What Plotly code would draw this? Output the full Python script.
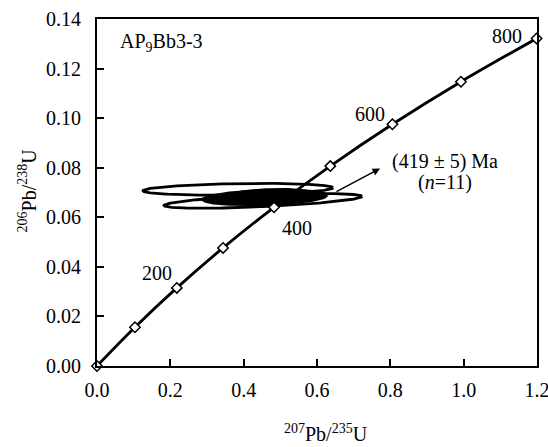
import numpy as np
import plotly.graph_objects as go

# Concordia points (age in Ma, 207Pb/235U, 206Pb/238U)
ages = [0, 100, 200, 300, 400, 500, 600, 700, 800]
conc_x = [0.0, 0.1035, 0.2177, 0.3437, 0.4828, 0.6362, 0.8057, 0.9926, 1.1989]
conc_y = [0.0, 0.01563, 0.03151, 0.04764, 0.06402, 0.08065, 0.09754, 0.11470, 0.13213]

# Age labels
lab_text = ["200", "400", "600", "800"]
lab_x = [0.164, 0.545, 0.745, 1.118]
lab_y = [0.0376, 0.0558, 0.1016, 0.1331]

# Error ellipses: center x, center y, semi-axis x, semi-axis y, tilt (dy/dx), filled
ell_cx = [0.3845, 0.4527, 0.458, 0.470]
ell_cy = [0.0713, 0.0666, 0.0680, 0.0682]
ell_ax = [0.259, 0.270, 0.169, 0.130]
ell_ay = [0.0023, 0.0023, 0.0028, 0.0030]
ell_tilt = [0.0023, 0.0068, 0.005, 0.005]
ell_fill = [False, False, True, True]

fig = go.Figure()

for cx, cy, ax, ay, tl, fl in zip(ell_cx, ell_cy, ell_ax, ell_ay, ell_tilt, ell_fill):
    t = np.linspace(0, 2 * np.pi, 200)
    ex = cx + ax * np.cos(t)
    ey = cy + ay * np.sin(t) + tl * (ex - cx)
    fig.add_trace(go.Scatter(
        x=ex, y=ey, mode="lines", fill="toself",
        fillcolor="black" if fl else "rgba(255,255,255,0)",
        line=dict(color="black", width=2.8),
        hoverinfo="skip", showlegend=False))

fig.add_trace(go.Scatter(
    x=conc_x, y=conc_y, mode="lines+markers",
    line=dict(color="black", width=2.8, shape="spline"),
    marker=dict(symbol="diamond", size=8, color="white",
                line=dict(color="black", width=1.5)),
    cliponaxis=False, showlegend=False, text=ages))

font_serif = "Liberation Serif, Times New Roman, serif"
FS = 20
fnt = dict(family=font_serif, size=FS, color="black")

for tx, x, y in zip(lab_text, lab_x, lab_y):
    fig.add_annotation(x=x, y=y, text=tx, showarrow=False, font=fnt)

fig.add_annotation(x=0.057, y=0.1307, xanchor="left", text="AP<sub>9</sub>Bb3-3",
                   showarrow=False, font=fnt)

# arrow
fig.add_annotation(x=0.772, y=0.0797, ax=0.649, ay=0.0700,
                   xref="x", yref="y", axref="x", ayref="y",
                   text="", showarrow=True, arrowhead=2, arrowsize=1,
                   arrowwidth=1.5, arrowcolor="black")
fig.add_annotation(x=0.948, y=0.0825, text="(419 ± 5) Ma", showarrow=False, font=fnt)
fig.add_annotation(x=0.948, y=0.0739, text="(<i>n</i>=11)", showarrow=False, font=fnt)

# axis titles
fig.add_annotation(x=0.520, y=-0.2334, xref="paper", yref="paper", yanchor="bottom",
                   text="<sup>207</sup>Pb/<sup>235</sup>U", showarrow=False, font=fnt)
fig.add_annotation(x=-0.19, y=0.507, xref="paper", yref="paper", textangle=-90,
                   text="<sup>206</sup>Pb/<sup>238</sup>U", showarrow=False, font=fnt)

axis_common = dict(showline=True, linecolor="black", linewidth=2, mirror=True,
                   ticks="inside", ticklen=7, tickwidth=1.5, tickcolor="black",
                   showgrid=False, zeroline=False, automargin=False,
                   ticklabeloverflow="allow", tickfont=fnt)

fig.update_xaxes(range=[0, 1.2], dtick=0.2, tick0=0, tickformat=".1f",
                 ticklabelstandoff=5, **axis_common)
fig.update_yaxes(range=[0, 0.14], dtick=0.02, tick0=0, tickformat=".2f",
                 ticklabelstandoff=10, **axis_common)

fig.update_layout(width=548, height=447, margin=dict(l=97, r=11, t=19, b=81),
                  plot_bgcolor="white", paper_bgcolor="white")

fig.write_html("out.html")
